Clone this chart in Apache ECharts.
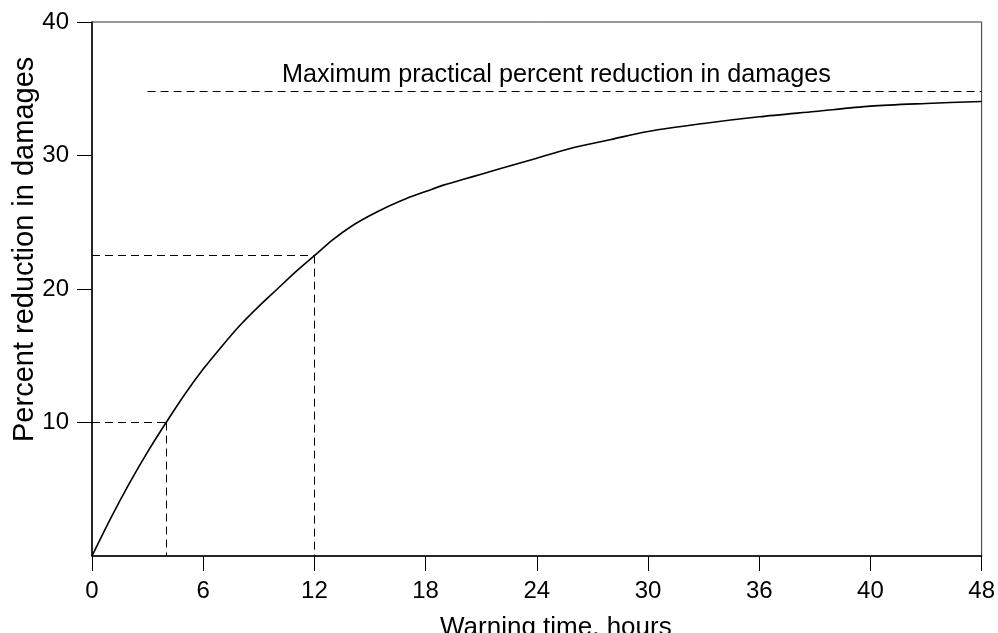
<!DOCTYPE html>
<html><head><meta charset="utf-8">
<script src="https://cdn.jsdelivr.net/npm/echarts@6/dist/echarts.min.js"></script>
<style>html,body{margin:0;padding:0;background:#fff}#c{width:998px;height:633px}</style>
</head><body><div id="c"></div>
<script>
// ---- data ----
const hours     = [0, 1, 2, 3, 4, 5, 6, 7, 8, 9, 10, 11, 12, 13, 14, 15, 16, 17, 18, 19, 20, 21, 22, 24, 26, 28, 30, 33, 36, 39, 42, 45, 48];
const reduction = [0, 2.8, 5.4, 7.8, 10, 12.1, 14.0, 15.7, 17.3, 18.7, 20.0, 21.3, 22.5, 23.7, 24.7, 25.5, 26.2, 26.8, 27.3, 27.8, 28.2, 28.6, 29.0, 29.8, 30.6, 31.2, 31.8, 32.4, 32.9, 33.3, 33.7, 33.9, 34.05];
const xTickValues = [0, 6, 12, 18, 24, 30, 36, 42, 48];
const xTickLabels = ['0', '6', '12', '18', '24', '30', '36', '40', '48'];
const yTickValues = [10, 20, 30, 40];
const yTickLabels = ['10', '20', '30', '40'];
const guidePoints = [[4, 10], [12, 22.5]];
const maxReduction = 34.8;
const maxLineFrom = 3;
const maxLineTo = 48;
const annotationText = 'Maximum practical percent reduction in damages';
const xTitle = 'Warning time, hours';
const yTitle = 'Percent reduction in damages';

const FONT = '"Liberation Sans", Arial, sans-serif';
const chart = echarts.init(document.getElementById('c'), null, {renderer: 'canvas'});

const dash = {color: '#000', width: 1, type: [8, 5]};
const markData = [];
guidePoints.forEach(p => {
  markData.push([{coord: [0, p[1]]}, {coord: [p[0], p[1]]}]);
  markData.push([{coord: [p[0], p[1]]}, {coord: [p[0], 0]}]);
});
markData.push([{coord: [maxLineFrom, maxReduction]}, {coord: [maxLineTo, maxReduction]}]);

const option = {
  backgroundColor: '#fff',
  animation: false,
  grid: {left: 92, right: 13, top: 22, bottom: 77, show: true, borderColor: '#333', borderWidth: 1, containLabel: false},
  xAxis: {
    type: 'value', min: 0, max: 48, interval: 6,
    axisLine: {show: true, onZero: false, lineStyle: {color: '#000', width: 1.5}},
    axisTick: {show: true, inside: false, length: 15, customValues: xTickValues, lineStyle: {color: '#000', width: 1}},
    axisLabel: {
      margin: 23, fontFamily: FONT, fontSize: 24, color: '#000', customValues: xTickValues,
      formatter: v => { const i = xTickValues.indexOf(v); return i >= 0 ? xTickLabels[i] : ''; }
    },
    splitLine: {show: false}
  },
  yAxis: {
    type: 'value', min: 0, max: 40, interval: 10,
    axisLine: {show: true, onZero: false, lineStyle: {color: '#000', width: 1.5}},
    axisTick: {show: true, inside: false, length: 15, customValues: yTickValues, lineStyle: {color: '#000', width: 1}},
    axisLabel: {
      margin: 23, fontFamily: FONT, fontSize: 24, color: '#000', customValues: yTickValues,
      formatter: v => { const i = yTickValues.indexOf(v); return i >= 0 ? yTickLabels[i] : ''; }
    },
    splitLine: {show: false}
  },
  series: [{
    type: 'line',
    data: hours.map((h, i) => [h, reduction[i]]),
    smooth: 0.3,
    showSymbol: false,
    symbol: 'none',
    lineStyle: {color: '#000', width: 1.6},
    markLine: {
      silent: true, symbol: ['none', 'none'],
      label: {show: false},
      lineStyle: dash,
      data: markData
    }
  }],
  graphic: [
    {type: 'text', left: 282, top: 63, style: {text: annotationText, font: '25.2px ' + FONT, fill: '#000'}},
    {type: 'text', left: 440, top: 615, style: {text: xTitle, font: '26px ' + FONT, fill: '#000'}},
    {type: 'text', x: 10, y: 442, rotation: Math.PI / 2, style: {text: yTitle, font: '29px ' + FONT, fill: '#000', textVerticalAlign: 'top'}}
  ]
};
chart.setOption(option);
</script></body></html>
